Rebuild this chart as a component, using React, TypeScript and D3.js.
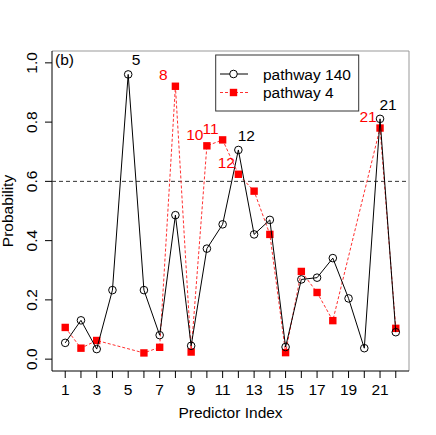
import React from "react";
import * as d3 from "d3";

// pathway 140 (black, open circles), one value per predictor 1..22
const idx140 = d3.range(1, 23);
const prob140 = [0.055, 0.131, 0.034, 0.233, 0.961, 0.233, 0.081, 0.486, 0.045, 0.373, 0.455,
  0.706, 0.421, 0.470, 0.041, 0.269, 0.275, 0.341, 0.205, 0.037, 0.811, 0.091];

// pathway 4 (red squares), only the predictors it contains
const idx4 = [1, 2, 3, 6, 7, 8, 9, 10, 11, 12, 13, 14, 15, 16, 17, 18, 21, 22];
const prob4 = [0.107, 0.037, 0.063, 0.021, 0.040, 0.921, 0.024, 0.720, 0.740, 0.624, 0.567,
  0.421, 0.022, 0.296, 0.225, 0.130, 0.780, 0.104];

const labels140 = [5, 12, 21];
const labels4 = [8, 10, 11, 12, 21];

const yTicks = [0, 0.2, 0.4, 0.6, 0.8, 1.0];
const xTicks = d3.range(1, 23);
const xTickLabels = d3.range(1, 22, 2);
const threshold = 0.6;

const font = "'Liberation Sans', Arial, Helvetica, sans-serif";
const fs = 15.5;

export default function App() {
  const width = 436, height = 435;
  const box = { left: 52, right: 409, top: 51, bottom: 371 };

  // R-style 4% axis expansion
  const x = d3.scaleLinear().domain([1 - 0.84, 22 + 0.84]).range([box.left, box.right]);
  const y = d3.scaleLinear().domain([-0.04, 1.04]).range([box.bottom, box.top]);

  const pts140 = idx140.map((i, k) => [i, prob140[k]] as [number, number]);
  const pts4 = idx4.map((i, k) => [i, prob4[k]] as [number, number]);
  const line = d3.line<[number, number]>().x(d => x(d[0])).y(d => y(d[1]));

  return (
    <svg width={width} height={height}
      style={{ position: "absolute", left: 0, top: 0, background: "#fff" }}
      fontFamily={font}>
      {/* box */}
      <line x1={box.left} x2={box.right} y1={box.top} y2={box.top} stroke="#999" />
      <line x1={box.right} x2={box.right} y1={box.top} y2={box.bottom} stroke="#999" />
      <line x1={box.left} x2={box.left} y1={box.top} y2={box.bottom} stroke="#000" />
      <line x1={box.left} x2={box.right} y1={box.bottom} y2={box.bottom} stroke="#000" />

      {/* y axis */}
      {yTicks.map(t => (
        <g key={t}>
          <line x1={box.left - 7} x2={box.left} y1={y(t)} y2={y(t)} stroke="#000" />
          <text transform={`translate(37,${y(t)}) rotate(-90)`} textAnchor="middle"
            fontSize={fs}>{t.toFixed(1)}</text>
        </g>
      ))}
      <text transform={`translate(13,${(box.top + box.bottom) / 2}) rotate(-90)`}
        textAnchor="middle" fontSize={fs}>Probability</text>

      {/* x axis */}
      {xTicks.map(t => (
        <line key={t} x1={x(t)} x2={x(t)} y1={box.bottom} y2={box.bottom + 7} stroke="#000" />
      ))}
      {xTickLabels.map(t => (
        <text key={t} x={x(t)} y={395} textAnchor="middle" fontSize={fs}>{t}</text>
      ))}
      <text x={(box.left + box.right) / 2} y={418} textAnchor="middle" fontSize={fs}>
        Predictor Index
      </text>

      {/* threshold */}
      <line x1={box.left} x2={box.right} y1={y(threshold)} y2={y(threshold)}
        stroke="#333" strokeDasharray="4,3" />

      {/* pathway 4 */}
      <path d={line(pts4) ?? ""} fill="none" stroke="#ff3030" strokeWidth={1}
        strokeDasharray="3,2" />
      {pts4.map(([i, v]) => (
        <rect key={i} x={x(i) - 3.7} y={y(v) - 3.7} width={7.4} height={7.4} fill="#ff0000" />
      ))}

      {/* pathway 140 */}
      <path d={line(pts140) ?? ""} fill="none" stroke="#000" strokeWidth={1} />
      {pts140.map(([i, v]) => (
        <circle key={i} cx={x(i)} cy={y(v)} r={3.8} fill="none" stroke="#000" />
      ))}

      {/* point labels */}
      {labels140.map(i => (
        <text key={"b" + i} x={x(i) + 8} y={y(prob140[idx140.indexOf(i)]) - 9}
          textAnchor="middle" fontSize={fs}>{i}</text>
      ))}
      {labels4.map(i => (
        <text key={"r" + i} x={x(i) - 12} y={y(prob4[idx4.indexOf(i)]) - 6}
          textAnchor="middle" fontSize={fs} fill="#ff0000">{i}</text>
      ))}

      <text x={55} y={65} fontSize={fs}>(b)</text>

      {/* legend */}
      <rect x={215.7} y={55} width={143} height={56} fill="#fff" stroke="#333" />
      <line x1={220} x2={248} y1={74} y2={74} stroke="#000" />
      <circle cx={233.5} cy={74} r={3.8} fill="#fff" stroke="#000" />
      <text x={263} y={79.5} fontSize={fs}>pathway 140</text>
      <line x1={220} x2={248} y1={92.5} y2={92.5} stroke="#ff3030" strokeDasharray="3,2" />
      <rect x={233.5 - 3.7} y={92.5 - 3.7} width={7.4} height={7.4} fill="#ff0000" />
      <text x={263} y={98} fontSize={fs}>pathway 4</text>
    </svg>
  );
}
